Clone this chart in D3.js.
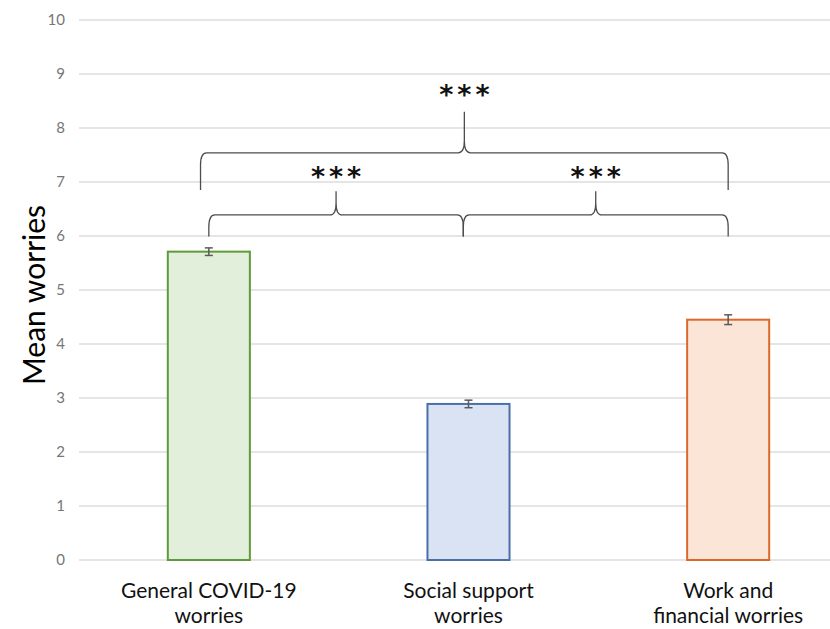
<!DOCTYPE html>
<html>
<head>
<meta charset="utf-8">
<script src="https://cdn.jsdelivr.net/npm/d3@7"></script>
<style>
  html, body { margin: 0; padding: 0; background: #ffffff; }
  svg { display: block; }
</style>
</head>
<body>
<svg id="chart" width="830" height="629"></svg>
<script>
// Mean worry scores by domain, with standard error bars
const categories = [
  ["General COVID-19", "worries"],
  ["Social support", "worries"],
  ["Work and", "financial worries"]
];
const means = [5.71, 2.89, 4.45];
const errors = [0.07, 0.07, 0.09];
const fills = ["#e2efda", "#dae3f3", "#fbe5d6"];
const strokes = ["#5e9a3c", "#4a6fa8", "#d9692c"];
const yTicks = [0, 1, 2, 3, 4, 5, 6, 7, 8, 9, 10];

// Significance braces: ends given as fractional category positions,
// heights in axis units (end tips, horizontal run, peak tip, star label)
const braces = [
  { from: -0.032, to: 2.0, tip: 6.85, run: 7.54, peak: 8.3, star: 8.74, label: "***" },
  { from: 0.0, to: 0.98, tip: 5.99, run: 6.39, peak: 6.83, star: 7.22, label: "***" },
  { from: 0.98, to: 2.0, tip: 5.99, run: 6.39, peak: 6.83, star: 7.22, label: "***" }
];

const W = 830, H = 629;
const plot = { left: 79, right: 858, top: 20, bottom: 560 };

const svg = d3.select("#chart");

const x = d3.scaleBand()
  .domain(d3.range(categories.length))
  .range([plot.left, plot.right])
  .paddingInner(0.684)
  .paddingOuter(0.342);

const y = d3.scaleLinear().domain([0, 10]).range([plot.bottom, plot.top]);

// continuous position along the category axis (index -> band centre)
const xPos = d3.scaleLinear()
  .domain([0, categories.length - 1])
  .range([x(0) + x.bandwidth() / 2, x(categories.length - 1) + x.bandwidth() / 2]);

// gridlines
svg.append("g")
  .selectAll("line")
  .data(yTicks)
  .join("line")
  .attr("x1", plot.left)
  .attr("x2", plot.right)
  .attr("y1", d => y(d))
  .attr("y2", d => y(d))
  .attr("stroke", "#dcdcdc")
  .attr("stroke-width", 1.5);

// y axis tick labels
const yAxis = d3.axisLeft(y).tickValues(yTicks).tickSize(0).tickPadding(14);
const gy = svg.append("g").attr("transform", `translate(${plot.left},0)`).call(yAxis);
gy.select(".domain").remove();
gy.selectAll("text")
  .attr("font-family", "Lato, 'Open Sans', sans-serif")
  .attr("font-size", 15)
  .attr("fill", "#767676");

// axis title
svg.append("text")
  .attr("transform", `translate(45,${(plot.top + plot.bottom) / 2 + 5}) rotate(-90)`)
  .attr("text-anchor", "middle")
  .attr("font-family", "Lato, 'Open Sans', sans-serif")
  .attr("font-size", 30)
  .attr("fill", "#000")
  .text("Mean worries");

// bars
svg.append("g")
  .selectAll("rect")
  .data(means)
  .join("rect")
  .attr("x", (d, i) => x(i))
  .attr("y", d => y(d))
  .attr("width", x.bandwidth())
  .attr("height", d => y(0) - y(d))
  .attr("fill", (d, i) => fills[i])
  .attr("stroke", (d, i) => strokes[i])
  .attr("stroke-width", 2);

// error bars
const eb = svg.append("g").attr("stroke", "#5a5a5a").attr("stroke-width", 1.5);
means.forEach((m, i) => {
  const cx = xPos(i);
  const cap = 4;
  eb.append("line").attr("x1", cx).attr("x2", cx).attr("y1", y(m + errors[i])).attr("y2", y(m - errors[i]));
  eb.append("line").attr("x1", cx - cap).attr("x2", cx + cap).attr("y1", y(m + errors[i])).attr("y2", y(m + errors[i]));
  eb.append("line").attr("x1", cx - cap).attr("x2", cx + cap).attr("y1", y(m - errors[i])).attr("y2", y(m - errors[i]));
});

// category labels
const lab = svg.append("g")
  .attr("font-family", "Lato, 'Open Sans', sans-serif")
  .attr("font-size", 21)
  .attr("fill", "#111")
  .attr("text-anchor", "middle");
categories.forEach((lines, i) => {
  const t = lab.append("text").attr("x", xPos(i)).attr("y", 598);
  lines.forEach((ln, k) => {
    t.append("tspan").attr("x", xPos(i)).attr("dy", k === 0 ? 0 : 25).text(ln);
  });
});

// curly braces
function bracePath(b) {
  const x0 = xPos(b.from), x1 = xPos(b.to), xm = (x0 + x1) / 2;
  const yt = y(b.tip), yr = y(b.run), yp = y(b.peak);
  const r = 6, rv = 12;
  const p = d3.path();
  p.moveTo(x0, yt);
  p.lineTo(x0, yr + rv);
  p.quadraticCurveTo(x0, yr, x0 + r, yr);
  p.lineTo(xm - r, yr);
  p.quadraticCurveTo(xm, yr, xm, yr - rv);
  p.lineTo(xm, yp);
  p.moveTo(xm, yr - rv);
  p.quadraticCurveTo(xm, yr, xm + r, yr);
  p.lineTo(x1 - r, yr);
  p.quadraticCurveTo(x1, yr, x1, yr + rv);
  p.lineTo(x1, yt);
  return p.toString();
}

svg.append("g")
  .selectAll("path")
  .data(braces)
  .join("path")
  .attr("d", bracePath)
  .attr("fill", "none")
  .attr("stroke", "#4d4d4d")
  .attr("stroke-width", 1.3);

// star labels; letter spacing leaves a trailing gap, so nudge right by half of it
const starSpacing = 4;
svg.append("g")
  .selectAll("text")
  .data(braces)
  .join("text")
  .attr("x", b => (xPos(b.from) + xPos(b.to)) / 2 + starSpacing / 2)
  .attr("y", b => y(b.star) + 16)
  .attr("text-anchor", "middle")
  .attr("font-family", "'DejaVu Sans', sans-serif")
  .attr("font-size", 27)
  .attr("font-weight", "bold")
  .attr("letter-spacing", starSpacing)
  .attr("fill", "#111")
  .text(b => b.label);
</script>
</body>
</html>
